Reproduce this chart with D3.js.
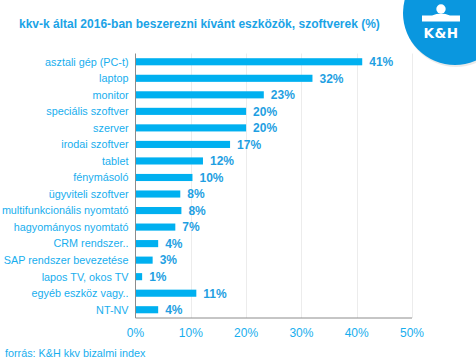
<!DOCTYPE html>
<html>
<head>
<meta charset="utf-8">
<script src="https://cdn.jsdelivr.net/npm/d3@7"></script>
<style>
  body { margin: 0; background: #fff; }
  svg { display: block; font-family: Arial, "Liberation Sans", sans-serif; }
</style>
</head>
<body>
<div id="chart"></div>
<script>
// Chart data
const categories = [
  "asztali gép (PC-t)", "laptop", "monitor", "speciális szoftver", "szerver",
  "irodai szoftver", "tablet", "fénymásoló", "ügyviteli szoftver",
  "multifunkcionális nyomtató", "hagyományos nyomtató", "CRM rendszer..",
  "SAP rendszer bevezetése", "lapos TV, okos TV", "egyéb eszköz vagy..", "NT-NV"
];
const values = [41, 32, 23, 20, 20, 17, 12, 10, 8, 8, 7, 4, 3, 1, 11, 4];
const barValues = [41, 32, 23.2, 20, 20, 17.1, 12.2, 10.3, 8.1, 8.3, 7.2, 4.1, 3.1, 1.2, 11, 4.1];
const xTicks = [0, 10, 20, 30, 40, 50];

const titleText = "kkv-k által 2016-ban beszerezni kívánt eszközök, szoftverek (%)";
const sourceText = "forrás: K&H kkv bizalmi index";

const W = 476, H = 361;
const margin = { top: 53.5, right: 64, bottom: 43, left: 135.5 };

const svg = d3.select("#chart").append("svg")
  .attr("width", W)
  .attr("height", H);

const x = d3.scaleLinear().domain([0, 50]).range([margin.left, W - margin.right]);
const y = d3.scaleBand().domain(categories).range([margin.top, H - margin.bottom]).paddingInner(0.57).paddingOuter(0.285);

// grid lines
svg.append("g")
  .selectAll("line")
  .data(xTicks.filter(d => d > 0))
  .enter().append("line")
  .attr("x1", d => Math.round(x(d)) + 0.5)
  .attr("x2", d => Math.round(x(d)) + 0.5)
  .attr("y1", margin.top)
  .attr("y2", H - margin.bottom)
  .attr("stroke", "#ececec");

// bars
svg.append("g")
  .selectAll("rect")
  .data(categories)
  .enter().append("rect")
  .attr("x", x(0))
  .attr("y", d => y(d))
  .attr("width", (d, i) => x(barValues[i]) - x(0))
  .attr("height", y.bandwidth())
  .attr("fill", "#00b0f0");

// value labels
svg.append("g")
  .selectAll("text")
  .data(categories)
  .enter().append("text")
  .attr("x", (d, i) => x(barValues[i]) + 7)
  .attr("y", d => y(d) + y.bandwidth() / 2)
  .attr("dy", "0.36em")
  .attr("font-size", "12px")
  .attr("font-weight", "bold")
  .attr("fill", "#1f9fe2")
  .text((d, i) => values[i] + "%");

// category labels
svg.append("g")
  .selectAll("text")
  .data(categories)
  .enter().append("text")
  .attr("x", margin.left - 7)
  .attr("y", d => y(d) + y.bandwidth() / 2)
  .attr("dy", "0.36em")
  .attr("text-anchor", "end")
  .attr("font-size", "10.8px")
  .attr("fill", "#17aeee")
  .text(d => d);

// axes lines
svg.append("line")
  .attr("x1", margin.left).attr("x2", margin.left)
  .attr("y1", margin.top).attr("y2", H - margin.bottom)
  .attr("stroke", "#8c8c8c");
svg.append("line")
  .attr("x1", margin.left).attr("x2", W - margin.right)
  .attr("y1", H - margin.bottom).attr("y2", H - margin.bottom)
  .attr("stroke", "#8c8c8c");

// x tick labels
svg.append("g")
  .selectAll("text")
  .data(xTicks)
  .enter().append("text")
  .attr("x", d => x(d))
  .attr("y", H - margin.bottom + 19)
  .attr("text-anchor", "middle")
  .attr("font-size", "12px")
  .attr("fill", "#17aeee")
  .text(d => d + "%");

// title
svg.append("text")
  .attr("x", 19)
  .attr("y", 28)
  .attr("font-size", "12px")
  .attr("font-weight", "bold")
  .attr("fill", "#1ba3e6")
  .text(titleText);

// source
svg.append("text")
  .attr("x", 5)
  .attr("y", 357)
  .attr("font-size", "10.8px")
  .attr("fill", "#17aeee")
  .text(sourceText);

// logo
const logo = svg.append("g");
logo.append("circle")
  .attr("cx", 456).attr("cy", 15).attr("r", 52)
  .attr("fill", "#dcdcdc").attr("opacity", 0.6);
logo.append("circle")
  .attr("cx", 455).attr("cy", 13).attr("r", 52)
  .attr("fill", "#0a97df");
logo.append("circle")
  .attr("cx", 441).attr("cy", 9).attr("r", 4.7)
  .attr("fill", "#fff");
logo.append("path")
  .attr("d", "M422,15.5 L432,15.5 Q441,11.5 450,15.5 L460,15.5 L460,21.5 L422,21.5 Z")
  .attr("fill", "#fff");
logo.append("text")
  .attr("x", 441).attr("y", 38)
  .attr("text-anchor", "middle")
  .attr("font-size", "13.5px")
  .attr("font-weight", "900")
  .attr("font-family", "'DejaVu Sans', Arial, sans-serif")
  .attr("letter-spacing", "0.5px")
  .attr("fill", "#fff")
  .text("K&H");
</script>
</body>
</html>
